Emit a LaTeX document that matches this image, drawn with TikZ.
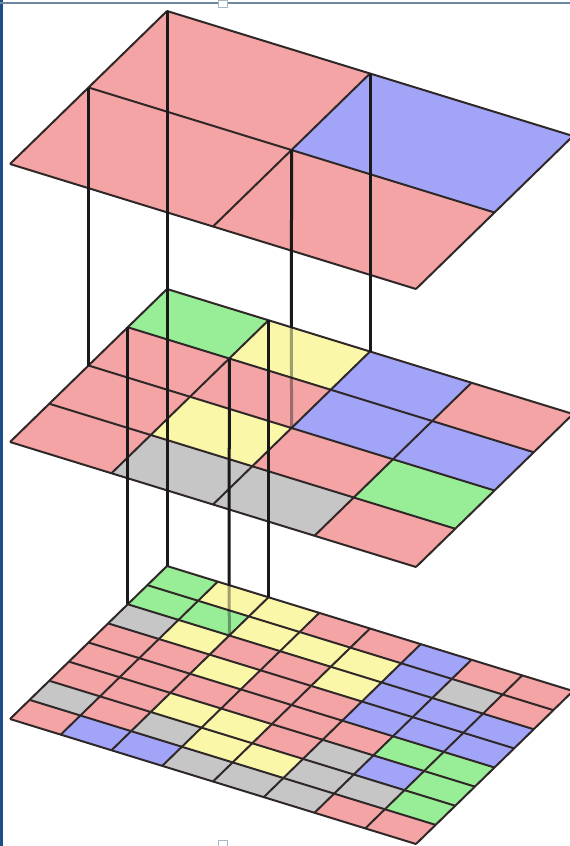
\documentclass[tikz,border=0pt]{standalone}
\usepackage{tikz}

\definecolor{pk}{RGB}{244,164,164}
\definecolor{bl}{RGB}{162,164,248}
\definecolor{gn}{RGB}{152,238,150}
\definecolor{yl}{RGB}{250,248,168}
\definecolor{gy}{RGB}{198,198,198}
\definecolor{edgecol}{RGB}{48,40,40}
\definecolor{framecol}{RGB}{28,78,138}
\definecolor{rulecol}{RGB}{110,135,160}

\begin{document}
\begin{tikzpicture}[x=1pt,y=-1pt]
	\tikzset{layer/.style={shift={(10,#1)},x={(50.75pt,-15.625pt)},y={(19.625pt,19.125pt)}},
		edge/.style={draw=edgecol,line width=2pt},
		post/.style={black!90,line width=3pt},
		faint/.style={draw opacity=0.4}}
	\useasboundingbox (0,0) rectangle (570,846);
	\fill[white] (0,0) rectangle (570,846);
	\fill[framecol] (0,0) rectangle (3,846);
	\draw[rulecol,line width=2pt] (0,3) -- (570,3);
	\draw[rulecol!60,fill=white,line width=0.8pt] (218,0) rectangle (227,7);
	\draw[rulecol!60,fill=white,line width=0.8pt] (218,840) rectangle (227,846);
	% bottom layer
	\begin{scope}[layer=719]
	\foreach \row [count=\j from 0] in {{pk,bl,bl,gy,gy,gy,pk,pk},{gy,pk,gy,yl,yl,gy,gy,gn},
		{pk,pk,yl,yl,pk,gy,bl,gn},{pk,pk,pk,pk,pk,pk,gn,gn},{pk,pk,yl,pk,pk,bl,bl,bl},
		{gy,yl,pk,pk,yl,bl,bl,bl},{gn,gn,yl,yl,yl,bl,gy,pk},{gn,yl,yl,pk,pk,bl,pk,pk}}
		\foreach \c [count=\i from 0] in \row
			\fill[fill=\c] (\i,\j) -- ++(1,0) -- ++(0,1) -- ++(-1,0) -- cycle;
	\foreach \k in {0,...,8}
		\draw[edge] (\k,0) -- (\k,8) (0,\k) -- (8,\k);
	\coordinate (b06) at (0,6);
	\coordinate (b08) at (0,8);
	\coordinate (b26) at (2,6);
	\coordinate (b28) at (2,8);
	\coordinate (b88) at (8,8);
	\end{scope}
	% middle layer
	\begin{scope}[layer=442]
	\foreach \row [count=\j from 0] in {{pk,gy,gy,pk},{pk,yl,pk,gn},{pk,pk,bl,bl},{gn,yl,bl,pk}}
		\foreach \c [count=\i from 0] in \row
			\fill[fill=\c] (2*\i,2*\j) -- ++(2,0) -- ++(0,2) -- ++(-2,0) -- cycle;
	\foreach \k in {0,2,...,8}
		\draw[edge] (\k,0) -- (\k,8) (0,\k) -- (8,\k);
	\coordinate (m04) at (0,4);
	\coordinate (m06) at (0,6);
	\coordinate (m08) at (0,8);
	\coordinate (m26) at (2,6);
	\coordinate (m28) at (2,8);
	\coordinate (m44) at (4,4);
	\coordinate (m48) at (4,8);
	\coordinate (m88) at (8,8);
	\end{scope}
	% top layer
	\begin{scope}[layer=164]
	\foreach \row [count=\j from 0] in {{pk,pk},{pk,bl}}
		\foreach \c [count=\i from 0] in \row
			\fill[fill=\c] (4*\i,4*\j) -- ++(4,0) -- ++(0,4) -- ++(-4,0) -- cycle;
	\foreach \k in {0,4,8}
		\draw[edge] (\k,0) -- (\k,8) (0,\k) -- (8,\k);
	\coordinate (t04) at (0,4);
	\coordinate (t08) at (0,8);
	\coordinate (t44) at (4,4);
	\coordinate (t48) at (4,8);
	\end{scope}
	\coordinate (mcut) at (intersection of t44--m44 and m08--m88);
	\coordinate (bcut) at (intersection of m26--b26 and b08--b88);
	\draw[post] (t08) -- (b08);
	\draw[post] (t04) -- (m04);
	\draw[post] (t48) -- (m48);
	\draw[post] (t44) -- (mcut);
	\draw[post,faint] (mcut) -- (m44);
	\draw[post] (m06) -- (b06);
	\draw[post] (m28) -- (b28);
	\draw[post] (m26) -- (bcut);
	\draw[post,faint] (bcut) -- (b26);
\end{tikzpicture}
\end{document}
